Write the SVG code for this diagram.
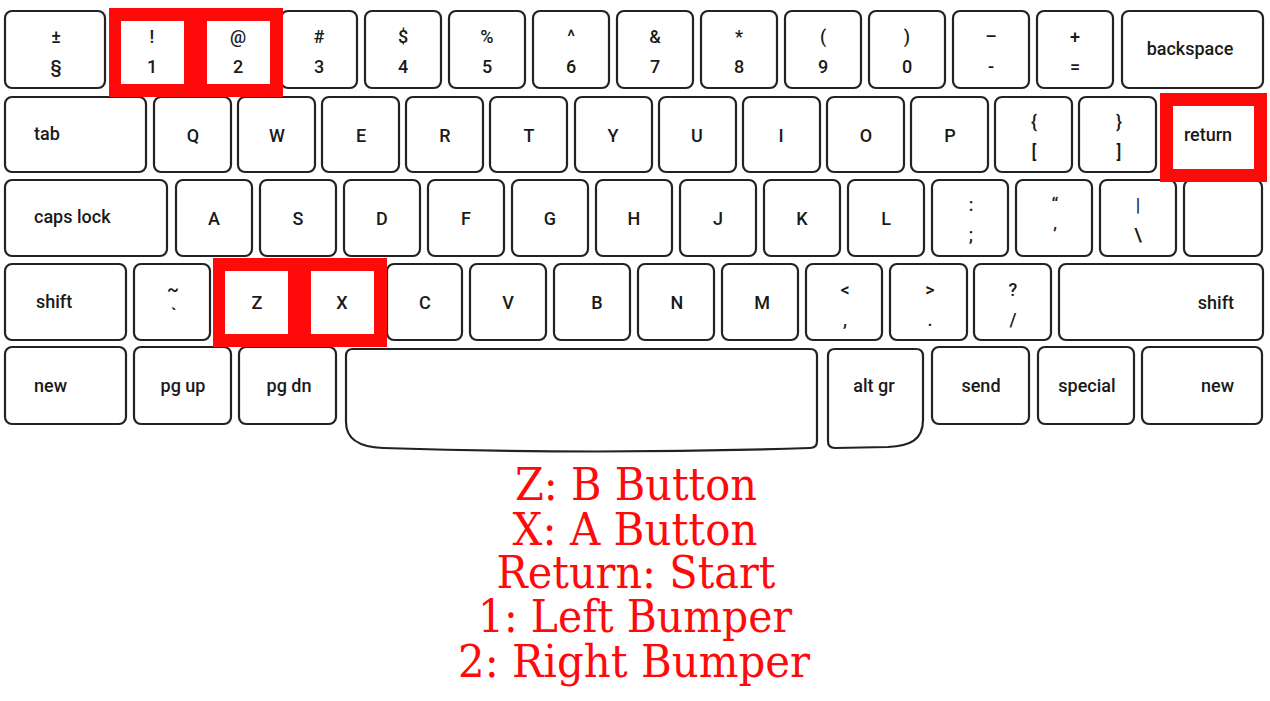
<svg xmlns="http://www.w3.org/2000/svg" width="1270" height="701" viewBox="0 0 1270 701">
<style>
.k{fill:#fff;stroke:#222;stroke-width:2.2}
.t{font-family:Roboto,"Liberation Sans",sans-serif;font-size:18px;font-weight:500;fill:#1a1a1a;text-anchor:middle}
.s{text-anchor:start}
.e{text-anchor:end}
.hl{fill:#ff0a0a;fill-rule:evenodd}
.cap{font-family:"DejaVu Serif","Liberation Serif",serif;font-size:44px;fill:#ff0a0a;text-anchor:middle}
</style>
<rect width="1270" height="701" fill="#fff"/>
<g id="keys">
<!-- Row 1 -->
<g id="k-sect"><rect class="k" x="5" y="11" width="100" height="77" rx="7"/><text class="t" x="56" y="43">±</text><text class="t" x="56" y="73">§</text></g>
<g id="k-1"><rect class="k" x="113" y="11" width="76" height="77" rx="7"/><text class="t" x="152" y="43">!</text><text class="t" x="152" y="73">1</text></g>
<g id="k-2"><rect class="k" x="197" y="11" width="76" height="77" rx="7"/><text class="t" x="238" y="43">@</text><text class="t" x="238" y="73">2</text></g>
<g id="k-3"><rect class="k" x="281" y="11" width="76" height="77" rx="7"/><text class="t" x="319" y="43">#</text><text class="t" x="319" y="73">3</text></g>
<g id="k-4"><rect class="k" x="365" y="11" width="76" height="77" rx="7"/><text class="t" x="403" y="43">$</text><text class="t" x="403" y="73">4</text></g>
<g id="k-5"><rect class="k" x="449" y="11" width="76" height="77" rx="7"/><text class="t" x="487" y="43">%</text><text class="t" x="487" y="73">5</text></g>
<g id="k-6"><rect class="k" x="533" y="11" width="76" height="77" rx="7"/><text class="t" x="571" y="43">^</text><text class="t" x="571" y="73">6</text></g>
<g id="k-7"><rect class="k" x="617" y="11" width="76" height="77" rx="7"/><text class="t" x="655" y="43">&amp;</text><text class="t" x="655" y="73">7</text></g>
<g id="k-8"><rect class="k" x="701" y="11" width="76" height="77" rx="7"/><text class="t" x="739" y="43">*</text><text class="t" x="739" y="73">8</text></g>
<g id="k-9"><rect class="k" x="785" y="11" width="76" height="77" rx="7"/><text class="t" x="823" y="43">(</text><text class="t" x="823" y="73">9</text></g>
<g id="k-0"><rect class="k" x="869" y="11" width="76" height="77" rx="7"/><text class="t" x="907" y="43">)</text><text class="t" x="907" y="73">0</text></g>
<g id="k-minus"><rect class="k" x="953" y="11" width="76" height="77" rx="7"/><text class="t" x="991" y="43">–</text><text class="t" x="991" y="73">-</text></g>
<g id="k-plus"><rect class="k" x="1037" y="11" width="76" height="77" rx="7"/><text class="t" x="1075" y="43">+</text><text class="t" x="1075" y="73">=</text></g>
<g id="k-backspace"><rect class="k" x="1122" y="11" width="141" height="77" rx="7"/><text class="t" x="1190" y="55">backspace</text></g>
<!-- Row 2 -->
<g id="k-tab"><rect class="k" x="5" y="97" width="141" height="75" rx="7"/><text class="t s" x="34" y="140">tab</text></g>
<g id="k-q"><rect class="k" x="154" y="97" width="77" height="75" rx="7"/><text class="t" x="193" y="142">Q</text></g>
<g id="k-w"><rect class="k" x="238" y="97" width="77" height="75" rx="7"/><text class="t" x="277" y="142">W</text></g>
<g id="k-e"><rect class="k" x="322" y="97" width="77" height="75" rx="7"/><text class="t" x="361" y="142">E</text></g>
<g id="k-r"><rect class="k" x="406" y="97" width="77" height="75" rx="7"/><text class="t" x="445" y="142">R</text></g>
<g id="k-t"><rect class="k" x="490" y="97" width="77" height="75" rx="7"/><text class="t" x="529" y="142">T</text></g>
<g id="k-y"><rect class="k" x="575" y="97" width="77" height="75" rx="7"/><text class="t" x="613" y="142">Y</text></g>
<g id="k-u"><rect class="k" x="659" y="97" width="77" height="75" rx="7"/><text class="t" x="697" y="142">U</text></g>
<g id="k-i"><rect class="k" x="743" y="97" width="77" height="75" rx="7"/><text class="t" x="781" y="142">I</text></g>
<g id="k-o"><rect class="k" x="827" y="97" width="77" height="75" rx="7"/><text class="t" x="866" y="142">O</text></g>
<g id="k-p"><rect class="k" x="911" y="97" width="77" height="75" rx="7"/><text class="t" x="950" y="142">P</text></g>
<g id="k-lbrace"><rect class="k" x="995" y="97" width="77" height="75" rx="7"/><text class="t" x="1034" y="128">{</text><text class="t" x="1034" y="158">[</text></g>
<g id="k-rbrace"><rect class="k" x="1079" y="97" width="77" height="75" rx="7"/><text class="t" x="1119" y="128">}</text><text class="t" x="1119" y="158">]</text></g>
<g id="k-return"><rect class="k" x="1163" y="97" width="100" height="75" rx="7"/><text class="t" x="1208" y="141">return</text></g>
<!-- Row 3 -->
<g id="k-caps"><rect class="k" x="5" y="180" width="162" height="76" rx="7"/><text class="t s" x="34" y="223">caps lock</text></g>
<g id="k-a"><rect class="k" x="176" y="180" width="76" height="76" rx="7"/><text class="t" x="214" y="225">A</text></g>
<g id="k-s"><rect class="k" x="260" y="180" width="76" height="76" rx="7"/><text class="t" x="298" y="225">S</text></g>
<g id="k-d"><rect class="k" x="344" y="180" width="76" height="76" rx="7"/><text class="t" x="382" y="225">D</text></g>
<g id="k-f"><rect class="k" x="428" y="180" width="76" height="76" rx="7"/><text class="t" x="466" y="225">F</text></g>
<g id="k-g"><rect class="k" x="512" y="180" width="76" height="76" rx="7"/><text class="t" x="550" y="225">G</text></g>
<g id="k-h"><rect class="k" x="596" y="180" width="76" height="76" rx="7"/><text class="t" x="634" y="225">H</text></g>
<g id="k-j"><rect class="k" x="680" y="180" width="76" height="76" rx="7"/><text class="t" x="718" y="225">J</text></g>
<g id="k-k"><rect class="k" x="764" y="180" width="76" height="76" rx="7"/><text class="t" x="802" y="225">K</text></g>
<g id="k-l"><rect class="k" x="848" y="180" width="76" height="76" rx="7"/><text class="t" x="886" y="225">L</text></g>
<g id="k-colon"><rect class="k" x="932" y="180" width="76" height="76" rx="7"/><text class="t" x="971" y="211">:</text><text class="t" x="971" y="241">;</text></g>
<g id="k-quote"><rect class="k" x="1016" y="180" width="76" height="76" rx="7"/><text class="t" x="1055" y="211">“</text><text class="t" x="1055" y="241">’</text></g>
<g id="k-pipe"><rect class="k" x="1100" y="180" width="76" height="76" rx="7"/><text class="t" x="1138" y="211">|</text><text class="t" x="1138" y="241">\</text></g>
<g id="k-blank"><rect class="k" x="1184" y="180" width="78" height="76" rx="7"/></g>
<!-- Row 4 -->
<g id="k-shift-l"><rect class="k" x="5" y="264" width="121" height="76" rx="7"/><text class="t s" x="36" y="308">shift</text></g>
<g id="k-tilde"><rect class="k" x="134" y="264" width="76" height="76" rx="7"/><text class="t" x="173" y="296">~</text><text class="t" x="174" y="321">`</text></g>
<g id="k-z"><rect class="k" x="218" y="264" width="76" height="76" rx="7"/><text class="t" x="257" y="309">Z</text></g>
<g id="k-x"><rect class="k" x="302" y="264" width="76" height="76" rx="7"/><text class="t" x="342" y="309">X</text></g>
<g id="k-c"><rect class="k" x="387" y="264" width="75" height="76" rx="7"/><text class="t" x="425" y="309">C</text></g>
<g id="k-v"><rect class="k" x="470" y="264" width="76" height="76" rx="7"/><text class="t" x="508" y="309">V</text></g>
<g id="k-b"><rect class="k" x="554" y="264" width="76" height="76" rx="7"/><text class="t" x="597" y="309">B</text></g>
<g id="k-n"><rect class="k" x="638" y="264" width="76" height="76" rx="7"/><text class="t" x="677" y="309">N</text></g>
<g id="k-m"><rect class="k" x="722" y="264" width="76" height="76" rx="7"/><text class="t" x="762" y="309">M</text></g>
<g id="k-lt"><rect class="k" x="806" y="264" width="76" height="76" rx="7"/><text class="t" x="845" y="296">&lt;</text><text class="t" x="845" y="326">,</text></g>
<g id="k-gt"><rect class="k" x="890" y="264" width="77" height="76" rx="7"/><text class="t" x="930" y="296">&gt;</text><text class="t" x="930" y="326">.</text></g>
<g id="k-slash"><rect class="k" x="974" y="264" width="77" height="76" rx="7"/><text class="t" x="1013" y="296">?</text><text class="t" x="1013" y="326">/</text></g>
<g id="k-shift-r"><rect class="k" x="1059" y="264" width="204" height="76" rx="7"/><text class="t e" x="1234" y="309">shift</text></g>
<!-- Row 5 -->
<g id="k-new-l"><rect class="k" x="5" y="347" width="121" height="77" rx="7"/><text class="t s" x="34" y="392">new</text></g>
<g id="k-pgup"><rect class="k" x="134" y="347" width="97" height="77" rx="7"/><text class="t" x="183" y="392">pg up</text></g>
<g id="k-pgdn"><rect class="k" x="239" y="347" width="97" height="77" rx="7"/><text class="t" x="289" y="392">pg dn</text></g>
<g id="k-space"><path class="k" d="M353 349 H810 Q817 349 817 356 V441 Q817 448 810 448 Q596 455 383 448 C360 447 346 440 346 422 V356 Q346 349 353 349 Z"/></g>
<g id="k-altgr"><path class="k" d="M835 349 H916 Q923 349 923 356 V420 C923 440 910 446 888 447 L835 448 Q828 448 828 441 V356 Q828 349 835 349 Z"/><text class="t" x="874" y="392">alt gr</text></g>
<g id="k-send"><rect class="k" x="932" y="347" width="97" height="77" rx="7"/><text class="t" x="981" y="392">send</text></g>
<g id="k-special"><rect class="k" x="1038" y="347" width="96" height="77" rx="7"/><text class="t" x="1087" y="392">special</text></g>
<g id="k-new-r"><rect class="k" x="1142" y="347" width="120" height="77" rx="7"/><text class="t e" x="1234" y="392">new</text></g>
</g>
<g id="highlights">
<path id="hl-12" class="hl" d="M109 8 H283 V97 H109 Z M121 21 V84 H184 V21 Z M207 21 V84 H270 V21 Z"/>
<path id="hl-return" class="hl" d="M1160 93 H1267 V182 H1160 Z M1173 106 V169 H1254 V106 Z"/>
<path id="hl-zx" class="hl" d="M213 258 H387 V347 H213 Z M225 271 V334 H288 V271 Z M311 271 V334 H374 V271 Z"/>
</g>
<g id="legend">
<text class="cap" x="636" y="500" textLength="242" lengthAdjust="spacingAndGlyphs">Z: B Button</text>
<text class="cap" x="635" y="545" textLength="245" lengthAdjust="spacingAndGlyphs">X: A Button</text>
<text class="cap" x="636" y="588" textLength="279" lengthAdjust="spacingAndGlyphs">Return: Start</text>
<text class="cap" x="635" y="632" textLength="314" lengthAdjust="spacingAndGlyphs">1: Left Bumper</text>
<text class="cap" x="634" y="677" textLength="352" lengthAdjust="spacingAndGlyphs">2: Right Bumper</text>
</g>
</svg>
